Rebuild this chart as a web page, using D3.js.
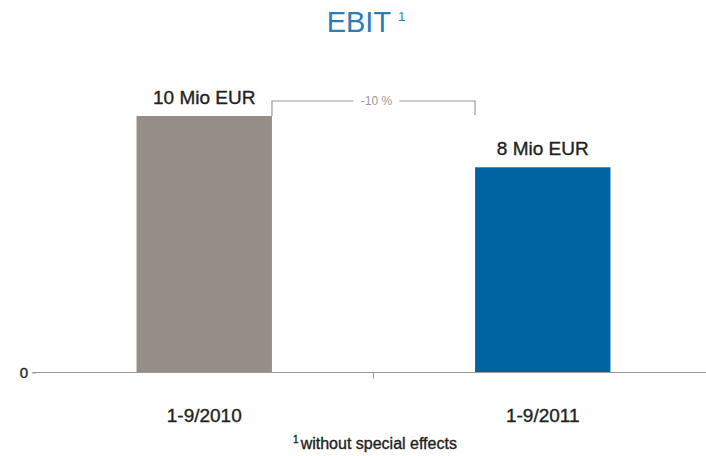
<!DOCTYPE html>
<html>
<head>
<meta charset="utf-8">
<script src="https://cdn.jsdelivr.net/npm/d3@7"></script>
<style>
  html, body { margin: 0; padding: 0; background: #fff; }
  svg { display: block; font-family: "Liberation Sans", Arial, sans-serif; }
  .dark { stroke: #222; stroke-width: 0.35px; }
</style>
</head>
<body>
<svg id="chart" width="706" height="456"></svg>
<script>
// EBIT (without special effects), in Mio EUR
const periods = ["1-9/2010", "1-9/2011"];
const ebit = [10, 8];
const valueLabels = ["10 Mio EUR", "8 Mio EUR"];
const barColors = ["#948d88", "#0064a3"];
const changeLabel = "-10 %";
const yTicks = [0];

const svg = d3.select("#chart");

const x = d3.scaleBand()
  .domain(periods)
  .range([35, 712])
  .paddingInner(0.6)
  .paddingOuter(0.3);

const y = d3.scaleLinear()
  .domain([0, 10])
  .range([372.5, 116]);

// title
const title = svg.append("text")
  .attr("x", 366)
  .attr("y", 32)
  .attr("text-anchor", "middle")
  .attr("fill", "#2c7db5")
  .style("font-size", "29px");
title.append("tspan").text("EBIT");
title.append("tspan")
  .attr("dx", 7)
  .attr("dy", -11)
  .style("font-size", "13px")
  .text("1");

// bars
svg.selectAll("rect.bar")
  .data(periods)
  .join("rect")
  .attr("class", "bar")
  .attr("x", d => x(d))
  .attr("width", x.bandwidth())
  .attr("y", (d, i) => y(ebit[i]))
  .attr("height", (d, i) => y(0) - y(ebit[i]))
  .attr("fill", (d, i) => barColors[i]);

// value labels above the bars
svg.selectAll("text.value")
  .data(periods)
  .join("text")
  .attr("class", "value dark")
  .attr("x", d => x(d) + x.bandwidth() / 2)
  .attr("y", (d, i) => y(ebit[i]) - 12)
  .attr("text-anchor", "middle")
  .attr("fill", "#222")
  .style("font-size", "19px")
  .text((d, i) => valueLabels[i]);

// change bracket between the two bar tops
const x0 = x(periods[0]) + x.bandwidth();
const x1 = x(periods[1]);
const yb = y(ebit[0]) - 15;
const bracket = svg.append("g")
  .attr("stroke", "#9a9a9a")
  .attr("stroke-width", 1.2)
  .attr("fill", "none");
bracket.append("path")
  .attr("d", `M${x0},${y(ebit[0])} V${yb} H${x1} V${yb + 14}`);
const midX = (x0 + x1) / 2 + 3;
bracket.append("rect")
  .attr("x", midX - 23).attr("y", yb - 6)
  .attr("width", 46).attr("height", 12)
  .attr("fill", "#fff").attr("stroke", "none");
svg.append("text")
  .attr("x", midX)
  .attr("y", yb + 4)
  .attr("text-anchor", "middle")
  .attr("fill", "#9a9a9a")
  .style("font-size", "12px")
  .text(changeLabel);

// x axis baseline with a divider tick between categories
const axisG = svg.append("g")
  .attr("transform", `translate(0,${y(0)})`);
axisG.append("line")
  .attr("x1", 33).attr("x2", 706)
  .attr("stroke", "#9a9a9a").attr("stroke-width", 1.2);
axisG.append("line")
  .attr("x1", x0 + (x1 - x0) / 2).attr("x2", x0 + (x1 - x0) / 2)
  .attr("y1", 0).attr("y2", 6)
  .attr("stroke", "#9a9a9a");

// category labels
svg.selectAll("text.cat")
  .data(periods)
  .join("text")
  .attr("class", "cat dark")
  .attr("x", d => x(d) + x.bandwidth() / 2)
  .attr("y", 422)
  .attr("text-anchor", "middle")
  .attr("fill", "#222")
  .style("font-size", "19px")
  .text(d => d);

// y axis: only the zero tick
const yAxis = d3.axisLeft(y).tickValues(yTicks).tickSize(4).tickPadding(4);
const yG = svg.append("g")
  .attr("transform", "translate(36,0)")
  .call(yAxis);
yG.select(".domain").remove();
yG.selectAll(".tick line").attr("stroke", "#9a9a9a");
yG.selectAll(".tick text")
  .attr("class", "dark")
  .attr("fill", "#222")
  .style("font-size", "15px")
  .style("font-family", "Liberation Sans, Arial, sans-serif");

// footnote
const foot = svg.append("text")
  .attr("class", "dark")
  .attr("x", 375)
  .attr("y", 449)
  .attr("text-anchor", "middle")
  .attr("fill", "#222")
  .style("font-size", "16px");
foot.append("tspan")
  .attr("dy", -6)
  .style("font-size", "10px")
  .text("1");
foot.append("tspan")
  .attr("dx", 2)
  .attr("dy", 6)
  .text("without special effects");
</script>
</body>
</html>
